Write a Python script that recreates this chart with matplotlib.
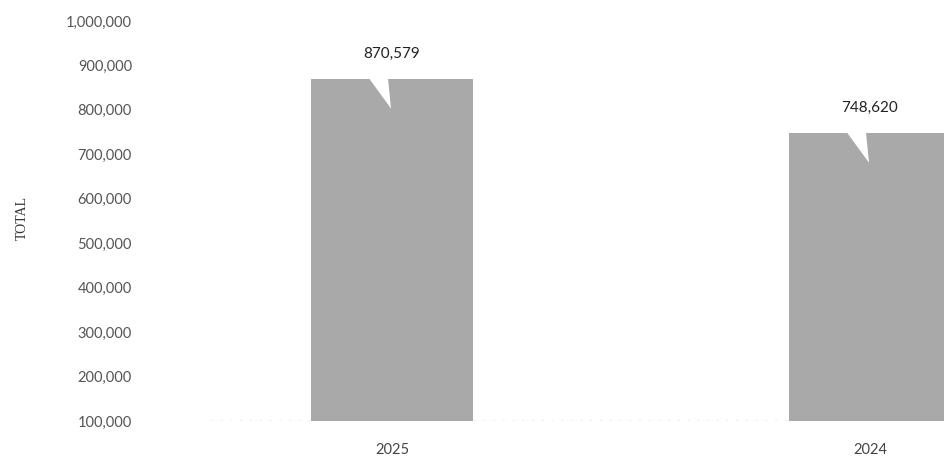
import matplotlib
matplotlib.use("Agg")
import matplotlib.pyplot as plt
from matplotlib.ticker import FuncFormatter

categories = ["2025", "2024"]
totals = [870579, 748620]
y_ticks = [100000, 200000, 300000, 400000, 500000, 600000, 700000, 800000, 900000, 1000000]

W, H = 944, 461
fig = plt.figure(figsize=(W / 100, H / 100), dpi=100)
ax_left, ax_right, ax_top, ax_bot = 150, 944, 21, 421
ax = fig.add_axes([ax_left / W, 1 - ax_bot / H, (ax_right - ax_left) / W, (ax_bot - ax_top) / H])

xs = list(range(len(categories)))
bar_w = 0.337
base = 100000
ax.bar(xs, [v - base for v in totals], bottom=base, width=bar_w, color="#a9a9a9",
       edgecolor="none", zorder=2)

# callout notch and value labels
px_per_x = 478.0
px_per_y = (ax_bot - ax_top) / (1000000 - 100000)
for x, v in zip(xs, totals):
    dl = 23 / px_per_x
    dr = 4 / px_per_x
    dt = 1 / px_per_x
    h = 30 / px_per_y
    ax.fill([x - dl, x - dr, x - dt], [v + 500, v + 500, v - h], color="white",
            edgecolor="none", zorder=3)
    ax.annotate(f"{v:,}", (x, v), xytext=(0, 13), textcoords="offset points",
                ha="center", va="bottom", fontsize=11, color="#222222", family="Lato")

ax.set_xlim(-(392 - ax_left) / px_per_x, 1 + (ax_right - 870) / px_per_x)
ax.set_ylim(100000, 1000000)
ax.set_yticks(y_ticks)
ax.yaxis.set_major_formatter(FuncFormatter(lambda v, p: f"{int(v):,}"))
ax.set_xticks(xs)
ax.set_xticklabels(categories)

for s in ax.spines.values():
    s.set_visible(False)
ax.tick_params(axis="y", length=0, pad=13, labelsize=10.5, labelcolor="#555555")
ax.tick_params(axis="x", length=0, pad=16, labelsize=10.5, labelcolor="#444444")
for t in ax.get_yticklabels() + ax.get_xticklabels():
    t.set_family("Lato")

ax.axhline(100000, xmin=(211 - ax_left) / (ax_right - ax_left), xmax=1, color="#777777",
           linestyle=(0, (1, 6)), linewidth=1.0, zorder=1)

fig.text(22 / W, 1 - 218 / H, "TOTAL", rotation=90, ha="center", va="center",
         fontsize=10, color="#333333", family="Liberation Serif")

fig.savefig("out.png", dpi=100)
